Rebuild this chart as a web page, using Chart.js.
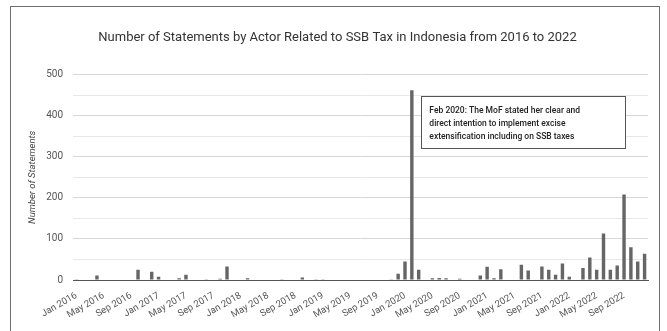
<!DOCTYPE html>
<html>
<head>
<meta charset="utf-8">
<script src="https://cdn.jsdelivr.net/npm/chart.js@4"></script>
<style>
  html, body { margin: 0; padding: 0; background: #fff; }
  #wrap { position: relative; width: 667px; height: 331px; overflow: hidden; }
  #frame { position: absolute; left: 10px; top: 6px; width: 650px; height: 340px;
           border: 1px solid #6e6e6e; box-sizing: border-box; pointer-events: none; }
  #chart { position: absolute; left: 0; top: 0; }
</style>
</head>
<body>
<div id="wrap">
  <div id="frame"></div>
  <canvas id="chart" width="667" height="331"></canvas>
</div>
<script>
var monthNames = ["Jan", "Feb", "Mar", "Apr", "May", "Jun", "Jul", "Aug", "Sep", "Oct", "Nov", "Dec"];
var years = [2016, 2017, 2018, 2019, 2020, 2021, 2022];

// monthly counts, one array per year (Jan..Dec)
var stmt2016 = [2, 0, 0, 11, 0, 0, 0, 0, 0, 25, 0, 20];
var stmt2017 = [8, 1, 0, 4, 13, 0, 0, 2, 0, 3, 33, 0];
var stmt2018 = [1, 4, 0, 0, 0, 0, 2, 0, 0, 6, 0, 2];
var stmt2019 = [2, 0, 0, 0, 0, 0, 0, 1, 0, 0, 2, 15];
var stmt2020 = [45, 462, 25, 0, 4, 5, 4, 0, 3, 1, 1, 11];
var stmt2021 = [32, 4, 26, 0, 0, 37, 23, 0, 33, 25, 13, 40];
var stmt2022 = [8, 1, 29, 55, 25, 113, 25, 35, 208, 80, 45, 64];

var yTicks = [0, 100, 200, 300, 400, 500];

var noteLines = [
  "Feb 2020: The MoF stated her clear and",
  "direct intention to implement excise",
  "extensification including on SSB taxes"
];
var noteMonth = "Feb 2020";

var labels = [];
years.forEach(function (y) {
  monthNames.forEach(function (m) { labels.push(m + " " + y); });
});
var values = [].concat(stmt2016, stmt2017, stmt2018, stmt2019, stmt2020, stmt2021, stmt2022);

// annotation box next to the Feb 2020 bar
var notePlugin = {
  id: 'note',
  afterDraw: function (chart) {
    var ctx = chart.ctx;
    var xs = chart.scales.x, ys = chart.scales.y;
    var left = xs.getPixelForValue(labels.indexOf(noteMonth)) + 9.5;
    var top = Math.round(ys.getPixelForValue(449)) + 0.5;
    var w = 204, h = 52;
    ctx.save();
    ctx.fillStyle = '#fff';
    ctx.fillRect(left, top, w, h);
    ctx.strokeStyle = '#555';
    ctx.lineWidth = 1;
    ctx.strokeRect(Math.round(left) + 0.5, top, w, h);
    ctx.fillStyle = '#222';
    ctx.font = '500 8.5px Roboto';
    ctx.textBaseline = 'middle';
    noteLines.forEach(function (t, i) {
      ctx.fillText(t, left + 8, top + 14 + i * 13);
    });
    ctx.restore();
  }
};

new Chart(document.getElementById('chart'), {
  type: 'bar',
  data: {
    labels: labels,
    datasets: [{
      label: 'Statements',
      data: values,
      backgroundColor: '#666666',
      barPercentage: 0.5,
      categoryPercentage: 1.0
    }]
  },
  options: {
    responsive: false,
    animation: false,
    layout: { padding: { left: 27, right: 19, top: 0, bottom: 0 } },
    plugins: {
      legend: { display: false },
      tooltip: { enabled: false },
      title: {
        display: true,
        text: 'Number of Statements by Actor Related to SSB Tax in Indonesia from 2016 to 2022',
        color: '#333',
        font: { family: 'Roboto', size: 13, weight: 'normal' },
        padding: { top: 30, bottom: 29 }
      }
    },
    scales: {
      x: {
        grid: { display: false },
        border: { display: true, color: '#555', width: 1 },
        afterFit: function (s) { s.height = 51; },
        ticks: {
          autoSkip: false,
          minRotation: 30,
          maxRotation: 30,
          padding: 2,
          color: '#555',
          font: { family: 'Roboto', size: 9.5 },
          callback: function (v, i) { return i % 4 === 0 ? labels[i] : ''; }
        }
      },
      y: {
        min: 0,
        max: 500,
        afterFit: function (s) { s.width = 46; },
        border: { display: false },
        grid: {
          drawTicks: false,
          color: function (c) {
            if (c.tick.value === 0) return '#555';
            return c.tick.value % 100 === 0 ? '#d6d6d6' : '#e8e8e8';
          }
        },
        ticks: {
          stepSize: 50,
          padding: 10,
          color: '#555',
          font: { family: 'Roboto', size: 10 },
          callback: function (v) { return yTicks.indexOf(v) >= 0 ? v : ''; }
        },
        title: {
          display: true,
          text: 'Number of Statements',
          color: '#444',
          font: { family: 'Roboto', size: 9.5, style: 'italic' },
          padding: { top: 0, bottom: 0 }
        }
      }
    }
  },
  plugins: [notePlugin]
});
</script>
</body>
</html>
